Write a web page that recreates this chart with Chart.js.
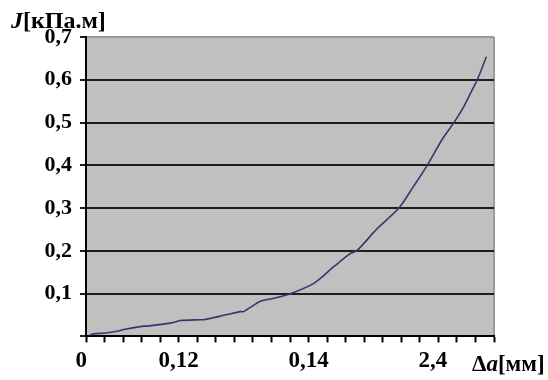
<!DOCTYPE html>
<html>
<head>
<meta charset="utf-8">
<script src="https://cdn.jsdelivr.net/npm/chart.js@4/dist/chart.umd.min.js"></script>
<style>
  html, body { margin: 0; padding: 0; background: #fff; }
  #wrap { width: 548px; height: 380px; position: relative; }
</style>
</head>
<body>
<div id="wrap"><canvas id="chart"></canvas></div>
<script>
// curve: x in tick intervals along the bottom axis, J in kPa·m
const xPos = [0.2, 0.41, 1.04, 1.67, 2.03, 3.11, 3.29, 4.55, 5.09, 6.17, 6.35, 7.61, 8.33, 8.5,
    9.41, 10.12, 10.97, 12.28, 13.36, 14.26, 14.62, 15.7, 16.87, 17.68, 18.4, 19.21, 19.81,
    20.38, 20.83, 21.1, 21.59];
const jValues = [0.003, 0.006, 0.008, 0.012, 0.016, 0.024, 0.024, 0.031, 0.037, 0.039, 0.039,
    0.051, 0.058, 0.058, 0.082, 0.089, 0.099, 0.124, 0.163, 0.194, 0.201, 0.252, 0.300, 0.352,
    0.400, 0.461, 0.498, 0.538, 0.577, 0.600, 0.654];

// bottom axis labels and where they sit
const xTickLabels = ['0', '0,12', '0,14', '2,4'];
const xTickAt = [-0.25, 5, 12, 18.7];
const xIntervals = 22;

const FONT = '"Liberation Serif", "Times New Roman", serif';

// grey plot area, right frame line and the two axis titles
const frame = {
    id: 'frame',
    beforeDraw: c => {
        const { ctx, chartArea: a } = c;
        ctx.save();
        ctx.fillStyle = '#c0c0c0';
        ctx.fillRect(a.left, a.top, a.right - a.left, a.bottom - a.top);
        ctx.strokeStyle = '#9a9a9a';
        ctx.lineWidth = 2;
        ctx.beginPath();
        ctx.moveTo(a.right, a.top);
        ctx.lineTo(a.right, a.bottom);
        ctx.stroke();
        ctx.restore();
    },
    afterDraw: c => {
        const ctx = c.ctx;
        ctx.save();
        ctx.fillStyle = '#000';
        ctx.textBaseline = 'alphabetic';
        // y title: J[кПа.м]
        let x = 11;
        ctx.font = 'italic bold 24px ' + FONT;
        ctx.fillText('J', x, 28);
        x += ctx.measureText('J').width;
        ctx.font = 'bold 24px ' + FONT;
        ctx.fillText('[кПа.м]', x, 28);
        // x title: Δa[мм]
        x = 472;
        ctx.font = 'bold 23px ' + FONT;
        ctx.fillText('Δ', x, 371);
        x += ctx.measureText('Δ').width;
        ctx.font = 'italic bold 23px ' + FONT;
        ctx.fillText('a', x, 371);
        x += ctx.measureText('a').width;
        ctx.font = 'bold 23px ' + FONT;
        ctx.fillText('[мм]', x, 371);
        ctx.restore();
    }
};

new Chart(document.getElementById('chart'), {
    type: 'line',
    data: {
        datasets: [{
            data: xPos.map((x, i) => ({ x, y: jValues[i] })),
            borderColor: '#37376f',
            borderWidth: 1.6,
            pointRadius: 0,
            tension: 0.3,
            fill: false,
        }]
    },
    options: {
        responsive: true,
        maintainAspectRatio: false,
        animation: false,
        layout: { padding: { left: 0, right: 54, top: 37, bottom: 0 } },
        plugins: {
            legend: { display: false },
            tooltip: { enabled: false },
        },
        scales: {
            y: {
                min: 0,
                max: 0.7,
                afterFit: s => { s.width = 86; },
                ticks: {
                    stepSize: 0.1,
                    padding: 8,
                    color: '#000',
                    font: { family: FONT, size: 22, weight: 'bold' },
                    callback: v => v === 0 ? '' : v.toFixed(1).replace('.', ','),
                },
                grid: {
                    color: ctx => ctx.tick && Math.abs(ctx.tick.value - 0.7) < 1e-6 ? '#9a9a9a' : '#1e1e1e',
                    lineWidth: 2,
                    tickLength: 6,
                    tickColor: '#1e1e1e',
                    tickWidth: 2,
                },
                border: { color: '#000', width: 2 },
            },
            x: {
                type: 'linear',
                position: 'bottom',
                weight: 0,
                min: 0,
                max: xIntervals,
                ticks: { stepSize: 1, display: false, autoSkip: false },
                grid: {
                    drawOnChartArea: false,
                    tickLength: 6,
                    tickColor: '#000',
                    tickWidth: 2,
                },
                border: { color: '#000', width: 2 },
            },
            x2: {
                type: 'linear',
                position: 'bottom',
                weight: 1,
                min: 0,
                max: xIntervals,
                afterBuildTicks: s => { s.ticks = xTickAt.map(v => ({ value: v })); },
                ticks: {
                    autoSkip: false,
                    maxRotation: 0,
                    padding: 5,
                    color: '#000',
                    font: { family: FONT, size: 23, weight: 'bold' },
                    callback: (v, i) => xTickLabels[i],
                },
                grid: { display: false, drawTicks: false },
                border: { display: false },
            },
        },
    },
    plugins: [frame],
});
</script>
</body>
</html>
